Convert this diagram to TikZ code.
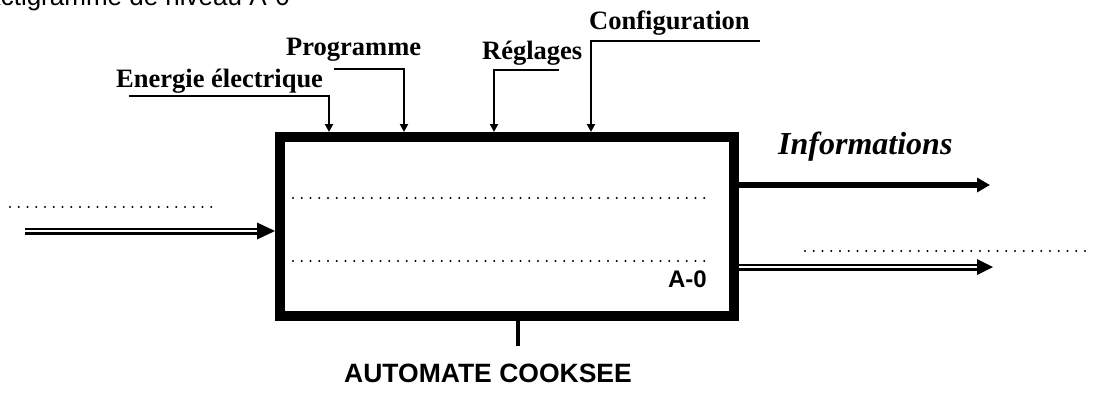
\documentclass[tikz,border=0pt]{standalone}
\usepackage{fontspec}
\setmainfont{Liberation Serif}
\newfontfamily\arialf{Liberation Sans}
\usetikzlibrary{arrows.meta,calc}
\begin{document}
\begin{tikzpicture}[x=1pt,y=-1pt,
  ctrl/.style={line width=2pt,-{Triangle[length=8pt,width=8pt]}},
  dotline/.style={line width=2.2pt,dash pattern=on 0pt off 8.75pt,line cap=round},
  dbl/.style={double=white,double distance=2.6pt,line width=2.2pt},
  lbl/.style={font=\fontsize{26.5}{26.5}\selectfont\bfseries,inner sep=0pt,anchor=base west},
  sanslbl/.style={font=\arialf\fontsize{26.5}{26.5}\selectfont\bfseries,inner sep=0pt}]
\useasboundingbox (0,0) rectangle (1093,392);
\begin{scope}
\clip (0,0) rectangle (1093,392);
\node[font=\arialf\fontsize{26}{26}\selectfont,inner sep=0pt,anchor=base east] (title) at (290,5.5) {Actigramme de niveau A-0};
\end{scope}
% main box
\node[draw,line width=10pt,minimum width=454pt,minimum height=179pt,inner sep=0pt] (box) at (507,226.5) {};
% inner dotted lines
\coordinate (d1a) at (293,198); \coordinate (d1b) at (712,198);
\coordinate (d2a) at (293,261); \coordinate (d2b) at (708,261);
\draw[dotline] (d1a) -- (d1b);
\draw[dotline] (d2a) -- (d2b);
\node[font=\arialf\fontsize{24}{24}\selectfont\bfseries,inner sep=0pt,anchor=base east] (a0) at (707,287) {A-0};
% control inputs
\coordinate (e0) at (129,96); \coordinate (e1) at (329,132);
\coordinate (p0) at (334,69); \coordinate (p1) at (404,132);
\coordinate (r0) at (559,70); \coordinate (r1) at (494,132);
\coordinate (c0) at (760,41); \coordinate (c1) at (591,132);
\draw[ctrl] (e0) -| (e1);
\draw[ctrl] (p0) -| (p1);
\draw[ctrl] (r0) -| (r1);
\draw[ctrl] (c0) -| (c1);
\node[lbl] (le) at (116,87) {Energie électrique};
\node[lbl] (lp) at (286,55) {Programme};
\node[lbl] (lr) at (482,59) {Réglages};
\node[lbl] (lc) at (589,29) {Configuration};
% left input
\coordinate (in0) at (10,207); \coordinate (in1) at (217,207);
\draw[dotline] (in0) -- (in1);
\coordinate (ia) at (25,231); \coordinate (ib) at (275,231);
\draw[dbl] (ia) -- ($(ib)+(-15,0)$);
\fill (ib) -- ++(-18,-8.5) -- ++(0,17) -- cycle;
% outputs
\coordinate (oa) at (739,185); \coordinate (ob) at (990,185);
\draw[line width=6pt,-{Triangle[length=13pt,width=14pt]}] (oa) -- (ob);
\node[font=\fontsize{32}{32}\selectfont\bfseries\itshape,inner sep=0pt,anchor=base west] (info) at (778,154) {Informations};
\coordinate (o2a) at (739,267); \coordinate (o2b) at (993,267);
\draw[dbl] (o2a) -- ($(o2b)+(-13,0)$);
\fill (o2b) -- ++(-16,-8) -- ++(0,16) -- cycle;
\coordinate (o3a) at (805,251); \coordinate (o3b) at (1090,251);
\draw[dotline] (o3a) -- (o3b);
% mechanism
\coordinate (m1) at (518,346);
\draw[line width=3.5pt] (box.south -| m1) -- (m1);
\node[sanslbl,anchor=base] (auto) at (488,382) {AUTOMATE COOKSEE};
\end{tikzpicture}
\end{document}
